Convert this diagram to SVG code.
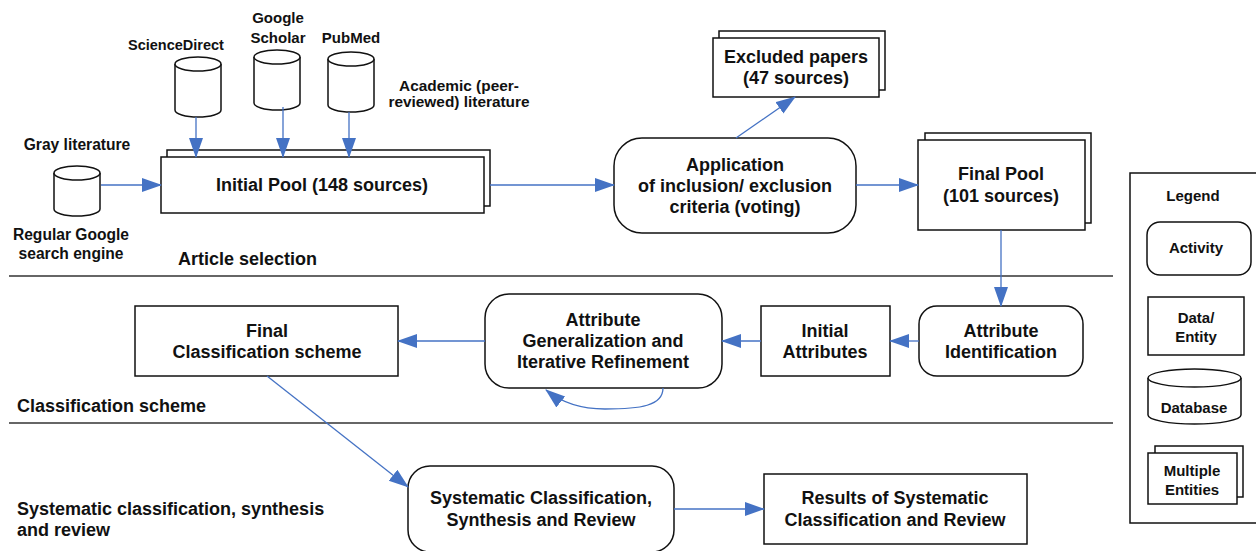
<svg xmlns="http://www.w3.org/2000/svg" width="1256" height="551" viewBox="0 0 1256 551">
<defs>
<style>
text{font-family:"Liberation Sans",Arial,sans-serif;font-weight:bold;fill:#111;}
.t{font-size:18px;text-anchor:middle;}
.sm{font-size:15px;text-anchor:middle;}
.sec{font-size:18px;}
.box{fill:#fff;stroke:#111;stroke-width:1.5;}
.sep{stroke:#333;stroke-width:1.6;}
.con{fill:none;stroke:#4472C4;stroke-width:1.3;marker-end:url(#ah);}
</style>
<marker id="ah" markerUnits="userSpaceOnUse" markerWidth="20" markerHeight="16" refX="19" refY="7" orient="auto">
<path d="M0,0 L20,7 L0,14 Z" fill="#4472C4"/>
</marker>
</defs>
<rect width="1256" height="551" fill="#fff"/>

<g id="separators">
<line class="sep" x1="9" y1="276" x2="1113" y2="276"/>
<line class="sep" x1="9" y1="423" x2="1113" y2="423"/>
</g>

<g id="labels">
<text class="sm" x="176" y="50" style="font-size:14.5px">ScienceDirect</text>
<text class="sm" x="278" y="23">Google</text>
<text class="sm" x="278" y="43">Scholar</text>
<text class="sm" x="351" y="43">PubMed</text>
<text class="sm" x="459" y="91" style="font-size:15.4px">Academic (peer-</text>
<text class="sm" x="459" y="107" style="font-size:15.4px">reviewed) literature</text>
<text class="sm" x="77" y="150" style="font-size:15.6px">Gray literature</text>
<text class="sm" x="71" y="240" style="font-size:15.6px">Regular Google</text>
<text class="sm" x="71" y="259" style="font-size:15.6px">search engine</text>
<text class="sec" x="178" y="265">Article selection</text>
<text class="sec" x="17" y="412">Classification scheme</text>
<text class="sec" x="17" y="515">Systematic classification, synthesis</text>
<text class="sec" x="17" y="536">and review</text>
</g>

<g id="db-sciencedirect">
<path class="box" d="M175,64 V110 A23,7 0 0 0 221,110 V64"/>
<ellipse class="box" cx="198" cy="64" rx="23" ry="7"/>
</g>
<g id="db-scholar">
<path class="box" d="M254,57 V103 A23,7 0 0 0 300,103 V57"/>
<ellipse class="box" cx="277" cy="57" rx="23" ry="7"/>
</g>
<g id="db-pubmed">
<path class="box" d="M328,59 V105 A23,7 0 0 0 374,105 V59"/>
<ellipse class="box" cx="351" cy="59" rx="23" ry="7"/>
</g>
<g id="db-google">
<path class="box" d="M54,173 V209 A23,7 0 0 0 100,209 V173"/>
<ellipse class="box" cx="77" cy="173" rx="23" ry="7"/>
</g>

<g id="initial-pool">
<rect class="box" x="167" y="150" width="323" height="56"/>
<rect class="box" x="161" y="157" width="323" height="56"/>
<text class="t" x="322" y="191">Initial Pool (148 sources)</text>
</g>

<g id="application">
<rect class="box" x="614" y="138" width="242" height="95" rx="28"/>
<text class="t" x="735" y="171">Application</text>
<text class="t" x="735" y="192">of inclusion/ exclusion</text>
<text class="t" x="735" y="213">criteria (voting)</text>
</g>

<g id="excluded">
<rect class="box" x="719" y="31" width="166" height="59"/>
<rect class="box" x="713" y="38" width="166" height="59"/>
<text class="t" x="796" y="63">Excluded papers</text>
<text class="t" x="796" y="84">(47 sources)</text>
</g>

<g id="final-pool">
<rect class="box" x="925" y="133" width="166" height="90"/>
<rect class="box" x="918" y="140" width="167" height="90"/>
<text class="t" x="1001" y="180">Final Pool</text>
<text class="t" x="1001" y="202">(101 sources)</text>
</g>

<g id="attribute-identification">
<rect class="box" x="919" y="306" width="164" height="70" rx="18"/>
<text class="t" x="1001" y="337">Attribute</text>
<text class="t" x="1001" y="358">Identification</text>
</g>

<g id="initial-attributes">
<rect class="box" x="761" y="306" width="129" height="70"/>
<text class="t" x="825" y="337">Initial</text>
<text class="t" x="825" y="358">Attributes</text>
</g>

<g id="attribute-generalization">
<rect class="box" x="485" y="294" width="237" height="94" rx="24"/>
<text class="t" x="603" y="326">Attribute</text>
<text class="t" x="603" y="347">Generalization and</text>
<text class="t" x="603" y="368">Iterative Refinement</text>
</g>

<g id="final-classification">
<rect class="box" x="135" y="306" width="263" height="70"/>
<text class="t" x="267" y="337">Final</text>
<text class="t" x="267" y="358">Classification scheme</text>
</g>

<g id="systematic-classification">
<rect class="box" x="408" y="466" width="266" height="86" rx="22"/>
<text class="t" x="541" y="504">Systematic Classification,</text>
<text class="t" x="541" y="526">Synthesis and Review</text>
</g>

<g id="results">
<rect class="box" x="764" y="474" width="263" height="70"/>
<text class="t" x="895" y="504">Results of Systematic</text>
<text class="t" x="895" y="526">Classification and Review</text>
</g>

<g id="legend">
<rect class="box" x="1130" y="173" width="140" height="350"/>
<text class="sm" x="1193" y="201">Legend</text>
<rect class="box" x="1147" y="222" width="104" height="53" rx="13"/>
<text class="sm" x="1196" y="253">Activity</text>
<rect class="box" x="1148" y="297" width="96" height="58"/>
<text class="sm" x="1196" y="323">Data/</text>
<text class="sm" x="1196" y="342">Entity</text>
<path class="box" d="M1148,378 V415 A46.5,9 0 0 0 1241,415 V378"/>
<ellipse class="box" cx="1194.5" cy="378" rx="46.5" ry="9"/>
<text class="sm" x="1194" y="413">Database</text>
<rect class="box" x="1155" y="446" width="88" height="51"/>
<rect class="box" x="1148" y="453" width="89" height="51"/>
<text class="sm" x="1192" y="476">Multiple</text>
<text class="sm" x="1192" y="495">Entities</text>
</g>

<g id="connectors">
<line class="con" x1="196" y1="117" x2="196" y2="157"/>
<line class="con" x1="283" y1="107" x2="283" y2="157"/>
<line class="con" x1="349" y1="112" x2="349" y2="157"/>
<line class="con" x1="101" y1="185" x2="161" y2="185"/>
<line class="con" x1="490" y1="185" x2="614" y2="185"/>
<line class="con" x1="736" y1="138" x2="795" y2="97"/>
<line class="con" x1="856" y1="185" x2="918" y2="185"/>
<line class="con" x1="1001" y1="230" x2="1001" y2="306"/>
<line class="con" x1="919" y1="341" x2="890" y2="341"/>
<line class="con" x1="761" y1="341" x2="722" y2="341"/>
<line class="con" x1="485" y1="341" x2="398" y2="341"/>
<path class="con" d="M663,388 C663,406 640,409 605,409 C580,409 562,403 546,390"/>
<line class="con" x1="267" y1="376" x2="408" y2="487"/>
<line class="con" x1="674" y1="509" x2="764" y2="509"/>
</g>
</svg>
